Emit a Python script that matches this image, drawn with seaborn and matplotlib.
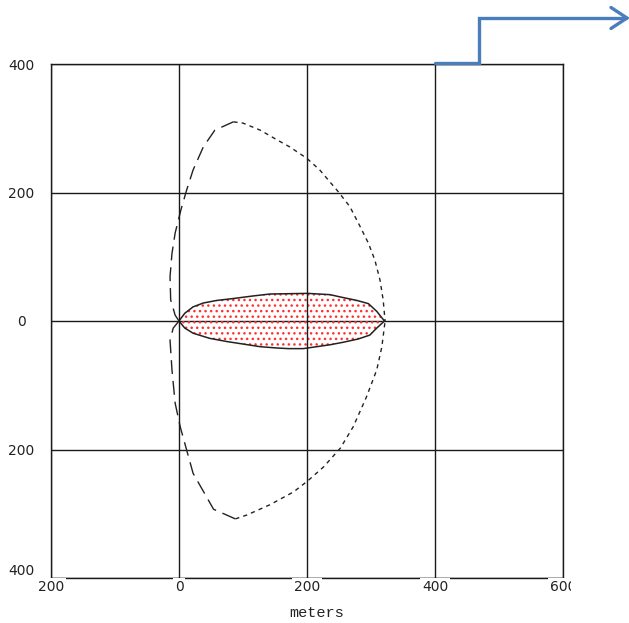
import matplotlib
matplotlib.use("Agg")
import matplotlib.pyplot as plt
import seaborn as sns
from matplotlib.lines import Line2D
from matplotlib.transforms import Bbox, TransformedBbox

# ---- data (meters) ----
outer_upper_left_x = [0, -6, -13, -14, -11, -6, 3, 12, 22, 38, 56, 85]
outer_upper_left_y = [0, 9, 33, 69, 105, 137, 173, 204, 235, 271, 297, 310]
outer_upper_right_x = [85, 100, 127, 153, 173, 200, 220, 249, 267, 283, 296, 306, 314, 319, 322]
outer_upper_right_y = [310, 308, 297, 282, 271, 253, 235, 201, 178, 147, 121, 95, 64, 33, 0]
outer_lower_left_x = [0, -9, -14, -11, -6, 2, 12, 22, 46, 54, 88]
outer_lower_left_y = [0, -11, -30, -76, -128, -165, -201, -237, -279, -293, -308]
outer_lower_right_x = [88, 106, 142, 179, 201, 226, 252, 272, 293, 309, 317, 322]
outer_lower_right_y = [-308, -302, -286, -266, -249, -227, -198, -165, -118, -76, -40, 0]

inner_top_x = [0, 9, 22, 38, 59, 85, 116, 142, 201, 236, 254, 278, 296, 309, 321]
inner_top_y = [0, 12, 22, 28, 32, 35, 39, 42, 43, 41, 37, 32, 27, 15, 0]
inner_bot_x = [0, 9, 22, 48, 75, 101, 127, 153, 171, 194, 236, 257, 280, 298, 309, 321]
inner_bot_y = [0, -11, -19, -27, -32, -36, -40, -42, -43, -43, -37, -33, -28, -22, -11, 0]

x_ticks = [-200, 0, 200, 400, 600]
x_tick_labels = ["200", "0", "200", "400", "600"]
y_ticks = [-400, -200, 0, 200, 400]
y_tick_labels = ["400", "200", "0", "200", "400"]
x_label = "meters"

# ---- figure ----
sns.set_style("white")
plt.rcParams["font.family"] = ["DejaVu Sans"]
plt.rcParams["hatch.linewidth"] = 1.0

W, H = 629, 623
fig = plt.figure(figsize=(W / 100, H / 100), dpi=100)
ax = fig.add_axes([51 / W, (H - 578) / H, 512 / W, 514 / H])

line_col = "#222222"
# hatched fill of inner region
poly_x = inner_top_x + inner_bot_x[::-1]
poly_y = inner_top_y + inner_bot_y[::-1]
ax.fill(poly_x, poly_y, facecolor="none", edgecolor="#ff3030", linewidth=0, hatch="...", zorder=1)

sns.lineplot(x=inner_top_x, y=inner_top_y, sort=False, estimator=None, ax=ax,
             color=line_col, linewidth=1.1, zorder=2)
sns.lineplot(x=inner_bot_x, y=inner_bot_y, sort=False, estimator=None, ax=ax,
             color=line_col, linewidth=1.1, zorder=2)

for xs, ys in [(outer_upper_left_x, outer_upper_left_y), (outer_lower_left_x, outer_lower_left_y)]:
    sns.lineplot(x=xs, y=ys, sort=False, estimator=None, ax=ax,
                 color=line_col, linewidth=1.0, linestyle=(0, (10, 5)), zorder=2)
for xs, ys in [(outer_upper_right_x, outer_upper_right_y), (outer_lower_right_x, outer_lower_right_y)]:
    sns.lineplot(x=xs, y=ys, sort=False, estimator=None, ax=ax,
                 color=line_col, linewidth=1.0, linestyle=(0, (3, 3)), zorder=2)

ax.set_xlim(-200, 600)
ax.set_ylim(-400, 400)
ax.set_xticks(x_ticks)
ax.set_xticklabels(x_tick_labels, fontsize=10, color="#222222",
                   bbox=dict(facecolor="white", edgecolor="none", boxstyle="square,pad=0.15"))
ax.set_yticks(y_ticks)
ax.set_yticklabels(y_tick_labels, fontsize=10, color="#222222", ha="center")
ax.tick_params(axis="x", length=0, pad=1.5)
ax.tick_params(axis="y", length=0, pad=21.2)
ax.grid(True, color="#1a1a1a", linewidth=1.0)
ax.xaxis.set_zorder(3)
for s in ax.spines.values():
    s.set_color("#1a1a1a")
    s.set_linewidth(1.0)

ax.set_xlabel(x_label, fontsize=11, family="Liberation Mono", color="#222222")
ax.xaxis.set_label_coords(0.519, -0.0545)
ax.xaxis.label.set_va("top")

# clip last x tick label as in reference
fig.canvas.draw()
lab = ax.get_xticklabels()[-1]
lab.set_clip_on(True)
lab.set_clip_box(TransformedBbox(Bbox([[0, 0], [571 / W, 1]]), fig.transFigure))
ylabs = ax.get_yticklabels()
ylabs[0].set_va("bottom")

# blue arrow annotation (figure pixel coords)
blue = "#4a7ebb"
def fx(p):
    return p / W
def fy(p):
    return (H - p) / H
fig.add_artist(Line2D([fx(435), fx(479), fx(479), fx(626)],
                      [fy(63), fy(63), fy(18), fy(18)],
                      color=blue, linewidth=2.4, solid_joinstyle="miter",
                      transform=fig.transFigure))
fig.add_artist(Line2D([fx(611), fx(627), fx(611)],
                      [fy(7.5), fy(18), fy(28.5)],
                      color=blue, linewidth=2.4, solid_joinstyle="miter",
                      transform=fig.transFigure))

fig.savefig("out.png", dpi=100)
